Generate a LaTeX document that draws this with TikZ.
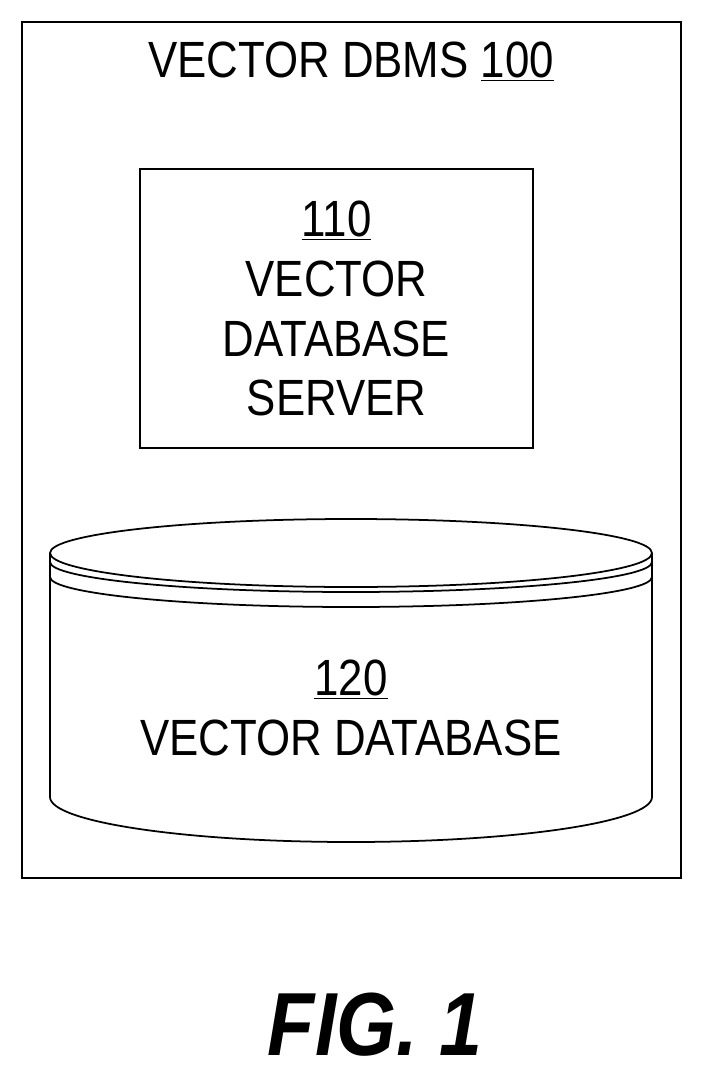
\documentclass[tikz,border=0pt]{standalone}
\usepackage{fontspec}
\setmainfont[FakeStretch=0.86]{Liberation Sans}
\usepackage{tikz}
\usetikzlibrary{positioning}

\begin{document}
\begin{tikzpicture}[x=0.02cm, y=-0.02cm, line width=1pt]
    % Define styles
    \tikzset{label/.style={align=center, font=\fontsize{29}{35}\selectfont, inner sep=0pt}}
    \useasboundingbox (0,0) rectangle (702,1081);

    % Frames
    \draw (22,22) rectangle (681,878);
    \node [label] (title) at (351,62) {VECTOR DBMS \underline{100}};
    \node [draw, minimum width=393*0.02cm, minimum height=279*0.02cm, line width=1pt] (server) at (336.5,308.5) {};
    \node [label, text depth=0pt] (serverlbl) at (server.center) {\underline{110}\\[-1pt]VECTOR\\[-1pt]DATABASE\\[-1pt]SERVER};

    % Cylinder
    \draw (50,553) -- (50,797) arc[start angle=180, end angle=0, x radius=301, y radius=45] -- (652,553);
    \draw (351,553) ellipse [x radius=301, y radius=34];
    \draw (50,562) arc[start angle=180, end angle=0, x radius=301, y radius=30];
    \draw (50,577) arc[start angle=180, end angle=0, x radius=301, y radius=30];
    \node [label] (db) at (351,708) {\underline{120}\\[-1pt]VECTOR DATABASE};

    % Caption
    \node [font=\fontsize{51}{56}\selectfont\bfseries\itshape, inner sep=0pt] (fig) at (375,1025) {FIG. 1};
\end{tikzpicture}
\end{document}
